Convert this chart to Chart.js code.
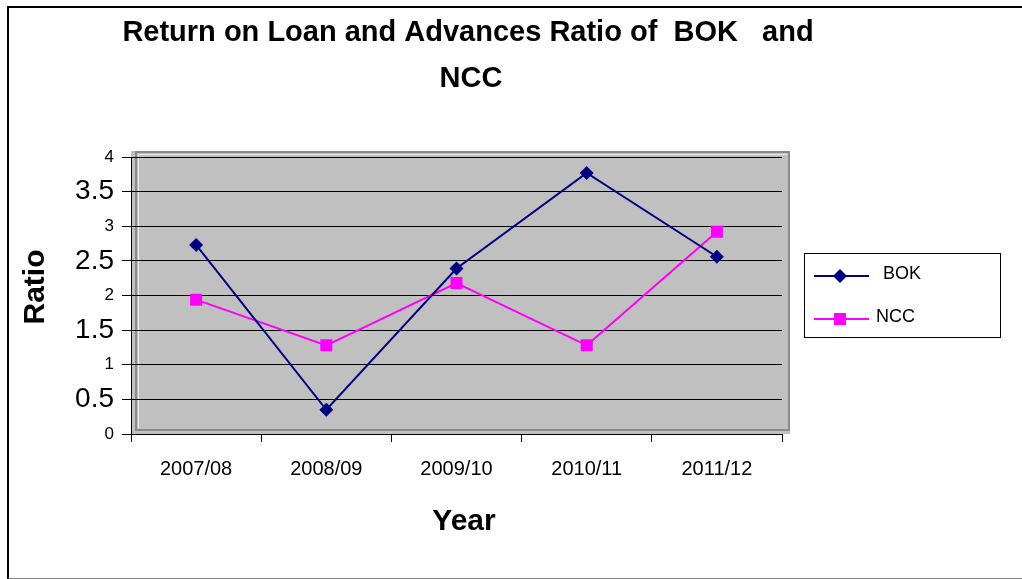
<!DOCTYPE html>
<html>
<head>
<meta charset="utf-8">
<script src="https://cdn.jsdelivr.net/npm/chart.js@4"></script>
<style>
  html, body { margin: 0; padding: 0; background: #ffffff; }
  #wrap { position: relative; width: 1022px; height: 579px; overflow: hidden; }
  #frame { position: absolute; left: 7px; top: 6px; width: 1030px; height: 570px;
           border-left: 2px solid #000; border-top: 2px solid #000; border-bottom: 1px solid #808080; }
  #c { position: absolute; left: 0; top: 0; }
</style>
</head>
<body>
<div id="wrap">
  <div id="frame"></div>
  <canvas id="c" width="1022" height="579"></canvas>
</div>
<script>
const chartTitleLines = ["Return on Loan and Advances Ratio of  BOK   and", "NCC"];
const categories = ["2007/08", "2008/09", "2009/10", "2010/11", "2011/12"];
const seriesNames = ["BOK", "NCC"];
const bokValues = [2.73, 0.35, 2.39, 3.77, 2.56];
const nccValues = [1.94, 1.28, 2.18, 1.28, 2.92];
const yTicks = [0, 0.5, 1, 1.5, 2, 2.5, 3, 3.5, 4];
const xAxisTitle = "Year";
const yAxisTitle = "Ratio";

const FONT = "'Liberation Sans', Arial, sans-serif";
const NAVY = "#000080";
const MAGENTA = "#FF00FF";

const plotBg = {
  id: 'plotBg',
  beforeDraw(chart) {
    const {ctx, chartArea: a} = chart;
    ctx.save();
    ctx.fillStyle = '#C0C0C0';
    ctx.fillRect(a.left, a.top - 6, (a.right + 8) - a.left, a.bottom - (a.top - 6));
    ctx.strokeStyle = '#8a8a8a';
    ctx.lineWidth = 2;
    ctx.strokeRect(a.left + 5, a.top - 5, (a.right + 7) - (a.left + 5), (a.bottom - 4) - (a.top - 5));
    ctx.strokeStyle = '#e8e8e8';
    ctx.lineWidth = 1;
    ctx.beginPath();
    ctx.moveTo(a.left + 7.5, a.bottom - 6);
    ctx.lineTo(a.left + 7.5, a.top - 2.5);
    ctx.lineTo(a.right + 5, a.top - 2.5);
    ctx.stroke();
    ctx.restore();
  }
};

const customText = {
  id: 'customText',
  afterDraw(chart) {
    const {ctx} = chart;
    ctx.save();
    // Title
    ctx.fillStyle = '#000';
    ctx.font = "bold 29px " + FONT;
    ctx.textAlign = 'center';
    ctx.textBaseline = 'middle';
    ctx.fillText(chartTitleLines[0], 468, 33);
    ctx.fillText(chartTitleLines[1], 471, 79);
    // Axis titles
    ctx.font = "bold 30px " + FONT;
    ctx.fillText(xAxisTitle, 464, 522);
    ctx.save();
    ctx.translate(36, 287);
    ctx.rotate(-Math.PI / 2);
    ctx.fillText(yAxisTitle, 0, 0);
    ctx.restore();
    // Legend
    const bx = 804.5, by = 253.5, bw = 196, bh = 84;
    ctx.fillStyle = '#fff';
    ctx.fillRect(bx, by, bw, bh);
    ctx.strokeStyle = '#000';
    ctx.lineWidth = 1;
    ctx.strokeRect(bx, by, bw, bh);
    const rows = [{y: 276, tx: 883}, {y: 319, tx: 876}];
    chart.data.datasets.forEach((ds, i) => {
      const r = rows[i];
      ctx.strokeStyle = ds.borderColor;
      ctx.lineWidth = 2;
      ctx.beginPath();
      ctx.moveTo(814, r.y);
      ctx.lineTo(869, r.y);
      ctx.stroke();
      ctx.fillStyle = ds.pointBackgroundColor;
      if (ds.pointStyle === 'rectRot') {
        ctx.beginPath();
        ctx.moveTo(840, r.y - 7);
        ctx.lineTo(847, r.y);
        ctx.lineTo(840, r.y + 7);
        ctx.lineTo(833, r.y);
        ctx.closePath();
        ctx.fill();
      } else {
        ctx.fillRect(834, r.y - 6, 12, 12);
      }
      ctx.fillStyle = '#000';
      ctx.font = "18px " + FONT;
      ctx.textAlign = 'left';
      ctx.textBaseline = 'middle';
      ctx.fillText(ds.label, r.tx, r.y - 2);
    });
    ctx.restore();
  }
};

new Chart(document.getElementById('c'), {
  type: 'line',
  data: {
    labels: categories,
    datasets: [
      {
        label: seriesNames[0], data: bokValues,
        borderColor: NAVY, backgroundColor: NAVY,
        pointBackgroundColor: NAVY, pointBorderColor: NAVY,
        pointStyle: 'rectRot', pointRadius: 7, pointBorderWidth: 0,
        borderWidth: 2, tension: 0
      },
      {
        label: seriesNames[1], data: nccValues,
        borderColor: MAGENTA, backgroundColor: MAGENTA,
        pointBackgroundColor: MAGENTA, pointBorderColor: MAGENTA,
        pointStyle: 'rect', pointRadius: 8.5, pointBorderWidth: 0,
        borderWidth: 2, tension: 0
      }
    ]
  },
  options: {
    responsive: false,
    animation: false,
    layout: { padding: { top: 157, right: 240, left: 0, bottom: 0 } },
    plugins: {
      legend: { display: false },
      title: { display: false },
      tooltip: { enabled: false }
    },
    scales: {
      x: {
        offset: true,
        grid: { offset: true, drawOnChartArea: false, color: '#000', tickLength: 8, lineWidth: 1 },
        border: { color: '#000', width: 1 },
        ticks: { color: '#000', font: { family: FONT, size: 20 }, padding: 15, maxRotation: 0, autoSkip: false },
        title: { display: false },
        afterFit(s) { s.height = 145; }
      },
      y: {
        min: 0, max: 4,
        afterBuildTicks(s) { s.ticks = yTicks.map(v => ({ value: v })); },
        grid: { color: '#000', tickLength: 9, lineWidth: 1 },
        border: { color: '#000', width: 1 },
        ticks: {
          color: '#000', padding: 8, autoSkip: false,
          font: (ctx) => (ctx.tick && Number.isInteger(ctx.tick.value))
            ? { family: FONT, size: 17 } : { family: FONT, size: 28 },
          callback: (v) => String(v)
        },
        title: { display: false },
        afterFit(s) { s.width = 131; }
      }
    }
  },
  plugins: [plotBg, customText]
});
</script>
</body>
</html>
